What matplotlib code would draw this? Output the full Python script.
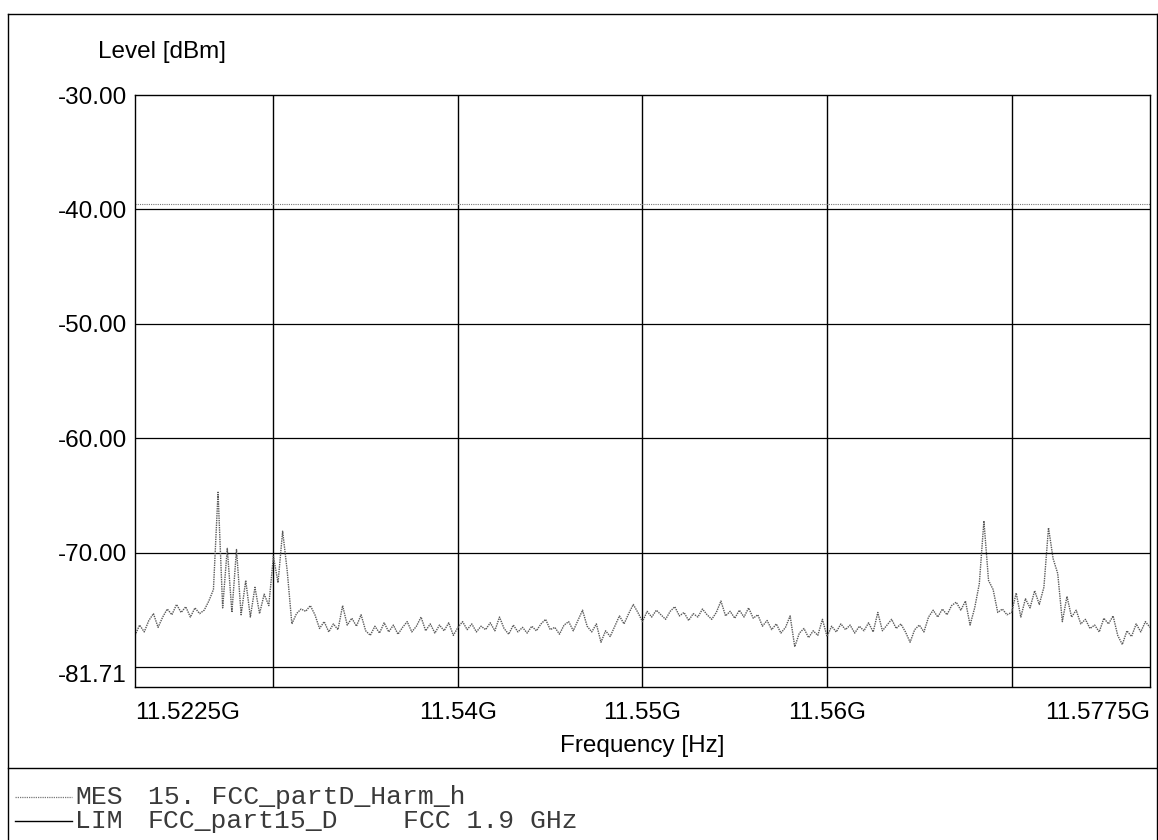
import numpy as np
import matplotlib.pyplot as plt
from matplotlib.lines import Line2D

# sweep 11.5225 GHz .. 11.5775 GHz
f_start = 11.5225e9
f_stop = 11.5775e9
n_pts = 221

mes_level = [
    -77.2, -76.3, -76.9, -75.9, -75.3, -76.5, -75.6, -74.9, -75.4, -74.5,
    -75.2, -74.7, -75.6, -74.8, -75.3, -75.0, -74.2, -73.2, -64.7, -74.8,
    -69.6, -75.2, -69.7, -75.4, -72.4, -75.6, -73.0, -75.3, -73.6, -74.6,
    -70.3, -72.6, -68.1, -71.6, -76.2, -75.3, -74.9, -75.1, -74.6, -75.4,
    -76.6, -76.0, -76.9, -76.2, -76.7, -74.6, -76.3, -75.7, -76.4, -75.4,
    -76.8, -77.2, -76.4, -77.0, -76.1, -76.9, -76.3, -77.1, -76.5, -76.0,
    -76.9, -76.4, -75.6, -76.8, -76.2, -77.0, -76.3, -76.8, -76.1, -77.2,
    -76.5, -76.0, -76.7, -76.2, -76.9, -76.4, -76.7, -76.1, -76.8, -75.6,
    -76.6, -77.1, -76.3, -76.9, -76.5, -77.0, -76.4, -76.8, -76.2, -75.8,
    -76.7, -76.5, -77.1, -76.3, -76.0, -76.8, -75.9, -75.0, -76.4, -76.9,
    -76.2, -77.8, -76.8, -77.3, -76.4, -75.5, -76.2, -75.3, -74.5, -75.2,
    -76.0, -75.1, -75.6, -75.0, -75.4, -75.8, -75.1, -74.7, -75.5, -75.2,
    -75.9, -75.3, -75.6, -74.9, -75.4, -75.8, -75.2, -74.2, -75.5, -75.1,
    -75.7, -75.0, -75.6, -74.8, -75.7, -75.4, -76.4, -75.9, -76.7, -76.2,
    -77.0, -76.5, -75.5, -78.2, -77.0, -76.6, -77.4, -76.8, -77.2, -75.8,
    -77.3, -76.4, -76.9, -76.2, -76.7, -76.3, -77.0, -76.4, -76.8, -76.1,
    -76.9, -75.2, -76.8, -76.3, -75.8, -76.6, -76.2, -76.9, -77.8, -76.7,
    -76.3, -76.9, -75.6, -75.0, -75.6, -74.9, -75.4, -74.6, -74.3, -75.0,
    -74.2, -76.3, -74.8, -72.7, -67.2, -72.4, -73.2, -75.2, -74.9, -75.4,
    -75.2, -73.5, -75.6, -74.0, -74.8, -73.3, -74.5, -73.0, -67.8, -70.5,
    -71.8, -76.0, -73.8, -75.6, -75.0, -76.2, -75.8, -76.6, -76.3, -76.9,
    -75.7, -76.2, -75.5, -77.2, -78.0, -76.8, -77.3, -76.2, -76.9, -76.0,
    -76.5,
]
freq = np.linspace(f_start, f_stop, n_pts)

y_ticks = [-30.0, -40.0, -50.0, -60.0, -70.0, -81.71]
y_tick_labels = ['-30.00', '-40.00', '-50.00', '-60.00', '-70.00', '-81.71']
x_ticks = [11.5225e9, 11.54e9, 11.55e9, 11.56e9, 11.5775e9]
x_tick_labels = ['11.5225G', '11.54G', '11.55G', '11.56G', '11.5775G']
h_grid = [-40, -50, -60, -70, -80]
v_grid = [11.53e9, 11.54e9, 11.55e9, 11.56e9, 11.57e9]
upper_line = -39.5

plt.rcParams['font.family'] = ['Liberation Sans', 'DejaVu Sans']
fs = 17.5

fig = plt.figure(figsize=(11.58, 8.4), dpi=100)
ax = fig.add_axes([135 / 1158, 1 - 687 / 840, 1015 / 1158, 592 / 840])

# grid
for g in h_grid:
    ax.axhline(g, color='black', lw=0.9, zorder=1)
for g in v_grid:
    ax.axvline(g, color='black', lw=1.0, zorder=1)
ax.axhline(upper_line, color='#777777', lw=0.8, ls=(0, (1, 1)), zorder=1)

# measured trace
ax.plot(freq, mes_level, color='#5a5a5a', lw=1.0, ls=(0, (1, 0.7)), zorder=2)

ax.set_xlim(f_start, f_stop)
ax.set_ylim(-81.71, -30.0)
ax.set_yticks(y_ticks)
ax.set_yticklabels(y_tick_labels, fontsize=fs)
ax.set_xticks(x_ticks)
ax.set_xticklabels(x_tick_labels, fontsize=fs)
ax.tick_params(length=0)
ax.tick_params(axis='y', pad=6)
ax.tick_params(axis='x', pad=11)
xl = ax.get_xticklabels()
xl[0].set_horizontalalignment('left')
xl[-1].set_horizontalalignment('right')
ax.get_yticklabels()[-1].set_verticalalignment('bottom')
for s in ax.spines.values():
    s.set_linewidth(1.0)

ax.set_xlabel('Frequency [Hz]', fontsize=fs, labelpad=8)
fig.text(98 / 1158, 1 - 52 / 840, 'Level [dBm]', fontsize=fs, va='center')

# outer frame and legend box
frame_kw = dict(color='black', lw=1.0, transform=fig.transFigure)
fig.add_artist(Line2D([8 / 1158, 1157 / 1158], [1 - 14 / 840] * 2, **frame_kw))
fig.add_artist(Line2D([8 / 1158] * 2, [0, 1 - 14 / 840], **frame_kw))
fig.add_artist(Line2D([1157 / 1158] * 2, [0, 1 - 14 / 840], **frame_kw))
fig.add_artist(Line2D([8 / 1158, 1157 / 1158], [1 - 768 / 840] * 2, **frame_kw))

mono = dict(family=['Liberation Mono', 'DejaVu Sans Mono'], fontsize=19, color='#3a3a3a', va='center')
y_mes = 1 - 797 / 840
y_lim = 1 - 821 / 840
fig.add_artist(Line2D([15 / 1158, 72 / 1158], [y_mes] * 2, color='#777777', lw=0.9,
                      ls=(0, (1, 0.8)), transform=fig.transFigure))
fig.add_artist(Line2D([15 / 1158, 72 / 1158], [y_lim] * 2, color='black', lw=1.0,
                      transform=fig.transFigure))
fig.text(75 / 1158, y_mes, 'MES', **mono)
fig.text(148 / 1158, y_mes, '15. FCC_partD_Harm_h', **mono)
fig.text(75 / 1158, y_lim, 'LIM', **mono)
fig.text(148 / 1158, y_lim, 'FCC_part15_D', **mono)
fig.text(403 / 1158, y_lim, 'FCC 1.9 GHz', **mono)

fig.savefig('out.png', dpi=100)
